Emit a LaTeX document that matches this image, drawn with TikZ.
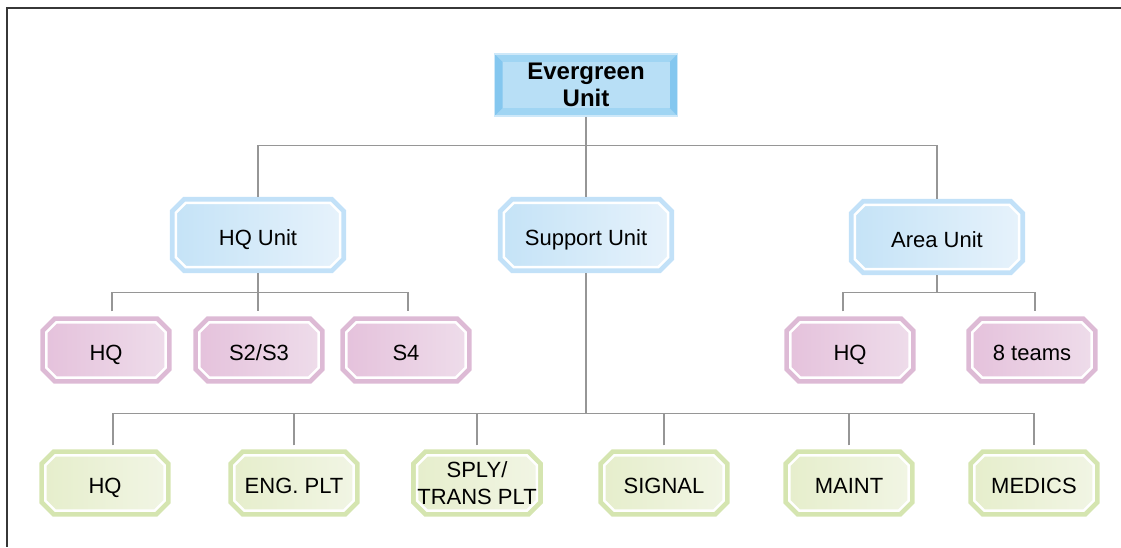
\documentclass[tikz,border=0pt]{standalone}
\usepackage{fontspec}
\setmainfont{Liberation Sans}

\definecolor{evFill}{RGB}{184,223,246}
\definecolor{evTop}{RGB}{160,213,243}
\definecolor{evSide}{RGB}{132,199,239}
\definecolor{evLine}{RGB}{205,232,249}
\definecolor{blueL}{RGB}{197,227,247}
\definecolor{blueR}{RGB}{230,242,251}
\definecolor{blueRing}{RGB}{194,225,248}
\definecolor{pinkL}{RGB}{229,194,220}
\definecolor{pinkR}{RGB}{238,220,234}
\definecolor{pinkRing}{RGB}{221,186,213}
\definecolor{greenL}{RGB}{230,238,204}
\definecolor{greenR}{RGB}{241,245,228}
\definecolor{greenRing}{RGB}{213,229,176}
\definecolor{linkGray}{RGB}{150,150,150}
\definecolor{frameGray}{RGB}{55,55,55}

\tikzstyle{txt} = [text centered, font=\fontsize{22}{27}\selectfont]
\tikzset{
  chbox/.style n args={3}{txt, rectangle, inner sep=0pt, text height=21pt, text depth=0pt,
    append after command={\pgfextra{\let\cb\tikzlastnode
      \path[preaction={draw=#1, line width=12pt}, left color=#2, right color=#3,
            draw=white, line width=2.5pt, line join=miter]
        ([xshift=10pt]\cb.north west) -- ([xshift=-10pt]\cb.north east)
        -- ([yshift=-10pt]\cb.north east) -- ([yshift=10pt]\cb.south east)
        -- ([xshift=-10pt]\cb.south east) -- ([xshift=10pt]\cb.south west)
        -- ([yshift=10pt]\cb.south west) -- ([yshift=-10pt]\cb.north west) -- cycle;}}},
}
\tikzstyle{unit} = [chbox={blueRing}{blueL}{blueR}, minimum width=164, minimum height=64]
\tikzstyle{hqcell} = [chbox={pinkRing}{pinkL}{pinkR}, minimum width=119, minimum height=55]
\tikzstyle{supcell} = [chbox={greenRing}{greenL}{greenR}, minimum width=119, minimum height=55]
\tikzstyle{link} = [draw=linkGray, line width=1.2pt]

\begin{document}
\begin{tikzpicture}[x=1pt, y=-1pt]

\useasboundingbox (0,0) rectangle (1121,547);
\draw[frameGray, line width=1.5pt] (1121,8) -- (7,8) -- (7,547);

% TOP
\node[txt, align=center, rectangle, minimum width=183, minimum height=62, inner sep=0pt,
      fill=evFill, draw=evLine, line width=1.5pt,
      font=\bfseries\fontsize{24}{27}\selectfont,
      path picture={
        \coordinate (pNW) at (path picture bounding box.north west);
        \coordinate (pNE) at (path picture bounding box.north east);
        \coordinate (pSW) at (path picture bounding box.south west);
        \coordinate (pSE) at (path picture bounding box.south east);
        \fill[evTop] (pNW) -- (pNE) -- ([shift={(-8pt,-8pt)}]pNE) -- ([shift={(8pt,-8pt)}]pNW) -- cycle;
        \fill[evTop] (pSW) -- (pSE) -- ([shift={(-8pt,8pt)}]pSE) -- ([shift={(8pt,8pt)}]pSW) -- cycle;
        \fill[evSide] (pNW) -- (pSW) -- ([shift={(8pt,8pt)}]pSW) -- ([shift={(8pt,-8pt)}]pNW) -- cycle;
        \fill[evSide] (pNE) -- (pSE) -- ([shift={(-8pt,8pt)}]pSE) -- ([shift={(-8pt,-8pt)}]pNE) -- cycle;
        \fill[evFill] ([shift={(8pt,-8pt)}]pNW) rectangle ([shift={(-8pt,8pt)}]pSE);
      }] (top) at (586,85) {Evergreen\\Unit};

% UNITS
\node[unit] (hqu) at (258,235) {HQ Unit};
\node[unit] (sup) at (586,235) {Support Unit};
\node[unit] (area) at (937,237) {Area Unit};

\draw[link] (top.south) -- ++(0,29) coordinate (topbar);
\draw[link, shorten <=6pt, shorten >=6pt] (hqu.north) |- (topbar) -| (area.north);
\draw[link, shorten >=6pt] (topbar) -- (sup.north);

% HQ UNIT
\node[hqcell] (hq1) at (106,350) {HQ};
\node[hqcell] (hq2) at (259,350) {S2/S3};
\node[hqcell] (hq3) at (406,350) {S4};

\draw[link, shorten <=6pt] (hqu.south) -- ++(0,25) coordinate (hqbar);
\draw[link, shorten <=11pt, shorten >=11pt] ([xshift=6pt]hq1.north) |- (hqbar) -| ([xshift=2pt]hq3.north);
\draw[link, shorten >=11pt] (hqbar) -- (hqbar |- hq2.north);

% AREA UNIT
\node[hqcell] (ar1) at (850,350) {HQ};
\node[hqcell] (ar2) at (1032,350) {8 teams};

\draw[link, shorten <=6pt] (area.south) -- ++(0,23) coordinate (arbar);
\draw[link, shorten <=11pt, shorten >=11pt] ([xshift=-7pt]ar1.north) |- (arbar) -| ([xshift=3pt]ar2.north);

% SUPPORT UNIT
\node[supcell] (s1) at (105,483) {HQ};
\node[supcell] (s2) at (294,483) {ENG. PLT};
\node[supcell, align=center, text height={}, text depth={}] (s3) at (477,483) {SPLY/\\TRANS PLT};
\node[supcell] (s4) at (664,483) {SIGNAL};
\node[supcell] (s5) at (849,483) {MAINT};
\node[supcell] (s6) at (1034,483) {MEDICS};

\draw[link, shorten <=6pt] (sup.south) -- ++(0,146) coordinate (supbar);
\draw[link, shorten <=10pt, shorten >=10pt] ([xshift=8pt]s1.north) |- (supbar) -| (s6.north);
\foreach \c in {s2,s3,s4,s5} {%
  \draw[link, shorten <=10pt] (\c.north) -- (\c.north |- supbar);
}

\end{tikzpicture}
\end{document}
